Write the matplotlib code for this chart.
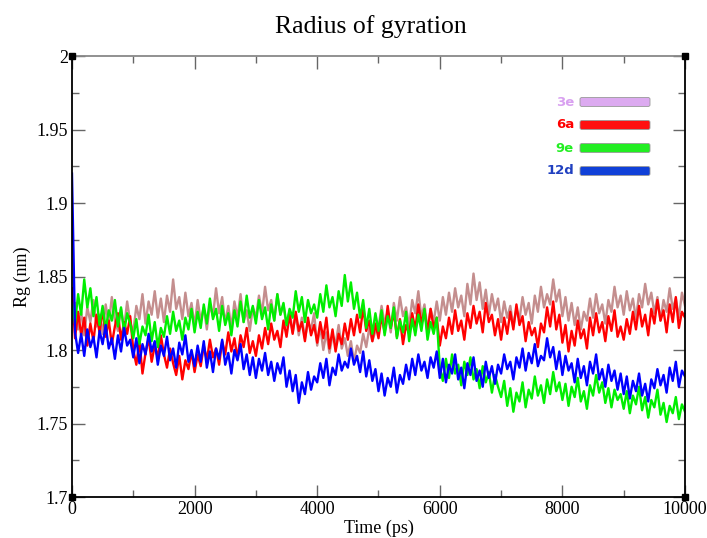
import matplotlib.pyplot as plt
import numpy as np
from matplotlib.patches import FancyBboxPatch

# time axis, one sample every 50 ps
time_ps = np.arange(0, 10001, 50)

rg_3e = [
    1.818, 1.832, 1.814, 1.826, 1.810, 1.829, 1.819, 1.834, 1.816, 1.824, 1.811, 1.831, 1.817, 1.836, 1.820, 1.813, 1.828, 1.815, 1.833, 1.819,
    1.812, 1.830, 1.821, 1.838, 1.818, 1.833, 1.824, 1.840, 1.822, 1.835, 1.819, 1.837, 1.826, 1.848, 1.828, 1.836, 1.821, 1.839, 1.823, 1.832,
    1.816, 1.834, 1.820, 1.829, 1.814, 1.831, 1.823, 1.842, 1.825, 1.836, 1.818, 1.830, 1.815, 1.833, 1.822, 1.838, 1.819, 1.827, 1.813, 1.829,
    1.822, 1.837, 1.825, 1.843, 1.827, 1.834, 1.820, 1.838, 1.824, 1.831, 1.816, 1.827, 1.812, 1.824, 1.810, 1.822, 1.808, 1.819, 1.814, 1.825,
    1.803, 1.816, 1.800, 1.812, 1.798, 1.810, 1.804, 1.817, 1.801, 1.808, 1.796, 1.806, 1.792, 1.803, 1.798, 1.811, 1.802, 1.815, 1.806, 1.813,
    1.815, 1.830, 1.818, 1.826, 1.812, 1.832, 1.820, 1.836, 1.823, 1.829, 1.816, 1.834, 1.825, 1.840, 1.822, 1.831, 1.814, 1.828, 1.819, 1.833,
    1.820, 1.836, 1.824, 1.839, 1.826, 1.842, 1.829, 1.837, 1.823, 1.845, 1.831, 1.852, 1.834, 1.846, 1.828, 1.841, 1.824, 1.838, 1.827, 1.835,
    1.819, 1.833, 1.822, 1.830, 1.816, 1.828, 1.821, 1.836, 1.824, 1.832, 1.818, 1.837, 1.826, 1.843, 1.829, 1.838, 1.831, 1.848, 1.833, 1.841,
    1.823, 1.836, 1.820, 1.832, 1.817, 1.829, 1.814, 1.826, 1.820, 1.835, 1.822, 1.838, 1.825, 1.831, 1.818, 1.834, 1.826, 1.843, 1.829, 1.837,
    1.824, 1.840, 1.827, 1.835, 1.821, 1.838, 1.829, 1.845, 1.831, 1.839, 1.825, 1.836, 1.820, 1.834, 1.826, 1.842, 1.828, 1.835, 1.822, 1.839,
    1.830]

rg_6a = [
    1.842, 1.808, 1.826, 1.810, 1.822, 1.803, 1.818, 1.806, 1.824, 1.812, 1.828, 1.809, 1.820, 1.804, 1.816, 1.825, 1.807, 1.819, 1.811, 1.823,
    1.800, 1.790, 1.806, 1.784, 1.798, 1.808, 1.792, 1.803, 1.795, 1.810, 1.797, 1.788, 1.801, 1.791, 1.783, 1.796, 1.780, 1.793, 1.787, 1.799,
    1.785, 1.797, 1.789, 1.803, 1.793, 1.807, 1.795, 1.801, 1.790, 1.806, 1.797, 1.812, 1.799, 1.808, 1.794, 1.810, 1.802, 1.815, 1.798, 1.806,
    1.796, 1.810, 1.801, 1.815, 1.804, 1.818, 1.807, 1.813, 1.802, 1.820, 1.809, 1.824, 1.811, 1.826, 1.813, 1.819, 1.806, 1.822, 1.810, 1.817,
    1.805, 1.819, 1.808, 1.822, 1.801, 1.814, 1.799, 1.811, 1.804, 1.818, 1.807, 1.821, 1.810, 1.824, 1.812, 1.829, 1.813, 1.820, 1.806, 1.818,
    1.808, 1.823, 1.812, 1.830, 1.815, 1.826, 1.809, 1.821, 1.804, 1.817, 1.811, 1.825, 1.814, 1.831, 1.818, 1.827, 1.812, 1.828, 1.815, 1.822,
    1.803, 1.816, 1.808, 1.822, 1.811, 1.827, 1.813, 1.820, 1.807, 1.825, 1.815, 1.830, 1.818, 1.826, 1.812, 1.832, 1.819, 1.824, 1.810, 1.821,
    1.807, 1.822, 1.811, 1.826, 1.814, 1.831, 1.817, 1.823, 1.806, 1.819, 1.810, 1.815, 1.802, 1.818, 1.812, 1.829, 1.816, 1.833, 1.814, 1.824,
    1.805, 1.817, 1.799, 1.813, 1.803, 1.820, 1.808, 1.814, 1.801, 1.822, 1.810, 1.825, 1.812, 1.819, 1.806, 1.823, 1.813, 1.827, 1.809, 1.816,
    1.807, 1.821, 1.811, 1.826, 1.814, 1.830, 1.816, 1.824, 1.810, 1.828, 1.818, 1.834, 1.820, 1.827, 1.812, 1.831, 1.819, 1.836, 1.815, 1.826,
    1.822]

rg_9e = [
    1.832, 1.818, 1.838, 1.824, 1.848, 1.829, 1.842, 1.823, 1.836, 1.817, 1.830, 1.814, 1.827, 1.820, 1.834, 1.816, 1.829, 1.812, 1.825, 1.818,
    1.808, 1.821, 1.804, 1.816, 1.810, 1.824, 1.806, 1.819, 1.802, 1.815, 1.809, 1.823, 1.811, 1.826, 1.813, 1.820, 1.807, 1.822, 1.814, 1.828,
    1.812, 1.826, 1.815, 1.831, 1.818, 1.835, 1.821, 1.828, 1.813, 1.830, 1.817, 1.825, 1.810, 1.827, 1.816, 1.833, 1.819, 1.837, 1.822, 1.830,
    1.818, 1.834, 1.821, 1.829, 1.814, 1.831, 1.820, 1.838, 1.824, 1.832, 1.817, 1.828, 1.822, 1.840, 1.826, 1.836, 1.819, 1.834, 1.825, 1.831,
    1.822, 1.838, 1.826, 1.844, 1.829, 1.836, 1.823, 1.840, 1.830, 1.851, 1.833, 1.846, 1.828, 1.839, 1.822, 1.834, 1.815, 1.828, 1.811, 1.825,
    1.813, 1.827, 1.810, 1.823, 1.815, 1.829, 1.808, 1.820, 1.812, 1.826, 1.806, 1.821, 1.810, 1.824, 1.813, 1.828, 1.807, 1.819, 1.811, 1.822,
    1.788, 1.779, 1.794, 1.781, 1.797, 1.784, 1.790, 1.776, 1.792, 1.783, 1.795, 1.780, 1.787, 1.774, 1.789, 1.778, 1.785, 1.771, 1.783, 1.775,
    1.768, 1.779, 1.762, 1.774, 1.758, 1.771, 1.765, 1.778, 1.761, 1.773, 1.767, 1.782, 1.769, 1.776, 1.764, 1.780, 1.770, 1.785, 1.772, 1.778,
    1.766, 1.777, 1.762, 1.775, 1.768, 1.781, 1.765, 1.772, 1.760, 1.776, 1.769, 1.783, 1.771, 1.778, 1.764, 1.774, 1.761, 1.773, 1.766, 1.770,
    1.760, 1.772, 1.757, 1.769, 1.763, 1.775, 1.759, 1.768, 1.754, 1.766, 1.761, 1.773, 1.756, 1.764, 1.751, 1.762, 1.757, 1.768, 1.753, 1.763,
    1.758]

rg_12d = [
    1.920, 1.812, 1.798, 1.811, 1.796, 1.814, 1.802, 1.809, 1.795, 1.813, 1.804, 1.817, 1.801, 1.808, 1.794, 1.810, 1.799, 1.815, 1.803, 1.807,
    1.795, 1.808, 1.791, 1.804, 1.797, 1.811, 1.799, 1.806, 1.790, 1.803, 1.796, 1.809, 1.793, 1.801, 1.788, 1.805, 1.797, 1.810, 1.792, 1.800,
    1.789, 1.803, 1.792, 1.806, 1.788, 1.799, 1.785, 1.801, 1.794, 1.807, 1.790, 1.798, 1.784, 1.800, 1.793, 1.804, 1.787, 1.797, 1.783, 1.795,
    1.781, 1.794, 1.786, 1.798, 1.783, 1.792, 1.779, 1.791, 1.784, 1.795, 1.775, 1.786, 1.772, 1.783, 1.764, 1.778, 1.770, 1.785, 1.773, 1.782,
    1.778, 1.791, 1.781, 1.794, 1.776, 1.788, 1.783, 1.797, 1.786, 1.792, 1.788, 1.801, 1.790, 1.796, 1.785, 1.799, 1.782, 1.793, 1.779, 1.787,
    1.772, 1.784, 1.769, 1.781, 1.775, 1.788, 1.771, 1.783, 1.777, 1.790, 1.780, 1.794, 1.783, 1.797, 1.786, 1.792, 1.781, 1.795, 1.788, 1.799,
    1.781, 1.794, 1.778, 1.790, 1.784, 1.797, 1.780, 1.788, 1.774, 1.791, 1.783, 1.795, 1.779, 1.786, 1.775, 1.792, 1.781, 1.789, 1.777, 1.790,
    1.784, 1.797, 1.787, 1.792, 1.780, 1.795, 1.788, 1.801, 1.786, 1.798, 1.791, 1.804, 1.789, 1.796, 1.793, 1.808, 1.795, 1.802, 1.787, 1.799,
    1.783, 1.796, 1.786, 1.791, 1.778, 1.794, 1.781, 1.789, 1.776, 1.792, 1.784, 1.797, 1.780, 1.787, 1.775, 1.790, 1.779, 1.786, 1.773, 1.784,
    1.770, 1.782, 1.767, 1.779, 1.772, 1.784, 1.769, 1.777, 1.765, 1.780, 1.774, 1.787, 1.776, 1.783, 1.771, 1.788, 1.779, 1.792, 1.775, 1.786,
    1.782]

labels = ['3e', '6a', '9e', '12d']
line_colors = ['#c48e8e', '#ff0000', '#00ee00', '#0000ff']
legend_colors = ['#dcaaf0', '#ff1010', '#22ee22', '#1040d8']
text_colors = ['#d8a0f0', '#ff0000', '#22ee22', '#2040c0']

plt.rcParams['font.family'] = ['Liberation Serif', 'DejaVu Serif']

fig = plt.figure(figsize=(7.07, 5.38), dpi=100)
ax = fig.add_axes([0.1018, 0.0762, 0.8671, 0.8197])

for series, c in zip([rg_3e, rg_6a, rg_9e, rg_12d], line_colors):
    ax.plot(time_ps[:len(series)], series, color=c, lw=1.7)

ax.set_xlim(0, 10000)
ax.set_ylim(1.7, 2.0)
ax.set_xticks(np.arange(0, 10001, 2000))
ax.set_xticks(np.arange(1000, 10000, 2000), minor=True)
ax.set_yticks(np.arange(1.7, 2.001, 0.05))
ax.set_yticks(np.arange(1.725, 2.0, 0.05), minor=True)
ax.set_yticklabels(['1.7', '1.75', '1.8', '1.85', '1.9', '1.95', '2'])
ax.tick_params(which='both', direction='in', top=True, right=True,
               color='#666666', labelsize=13, pad=3)
ax.tick_params(which='major', length=9, width=1)
ax.tick_params(which='minor', length=5, width=1)
for s in ax.spines.values():
    s.set_linewidth(1.3)
ax.spines['top'].set_color('#888888')

fig.text(371 / 707, 1 - 27 / 538, 'Radius of gyration', fontsize=18.5,
         ha='center', va='center')
ax.set_xlabel('Time (ps)', fontsize=13, labelpad=1)
ax.set_ylabel('Rg (nm)', fontsize=13, labelpad=4)

# black corner squares, grace style
ax.plot([0, 10000, 0, 10000], [1.7, 1.7, 2.0, 2.0], 's', color='black',
        ms=5, clip_on=False, zorder=5)

# glossy legend bars
bar_y = [102, 125, 148, 171]
for lab, c, tc, yp in zip(labels, legend_colors, text_colors, bar_y):
    yf = 1 - yp / 538
    bar = FancyBboxPatch((580 / 707, yf - 4.5 / 538), 70 / 707, 9 / 538,
                         boxstyle='round,pad=0,rounding_size=0.003',
                         transform=fig.transFigure, facecolor=c,
                         edgecolor='#999999', lw=0.6, zorder=6)
    fig.patches.append(bar)
    fig.text(574 / 707, yf, lab, color=tc, fontsize=9.5, fontweight='bold',
             ha='right', va='center', family='DejaVu Sans')

fig.savefig('out.png', dpi=100)
